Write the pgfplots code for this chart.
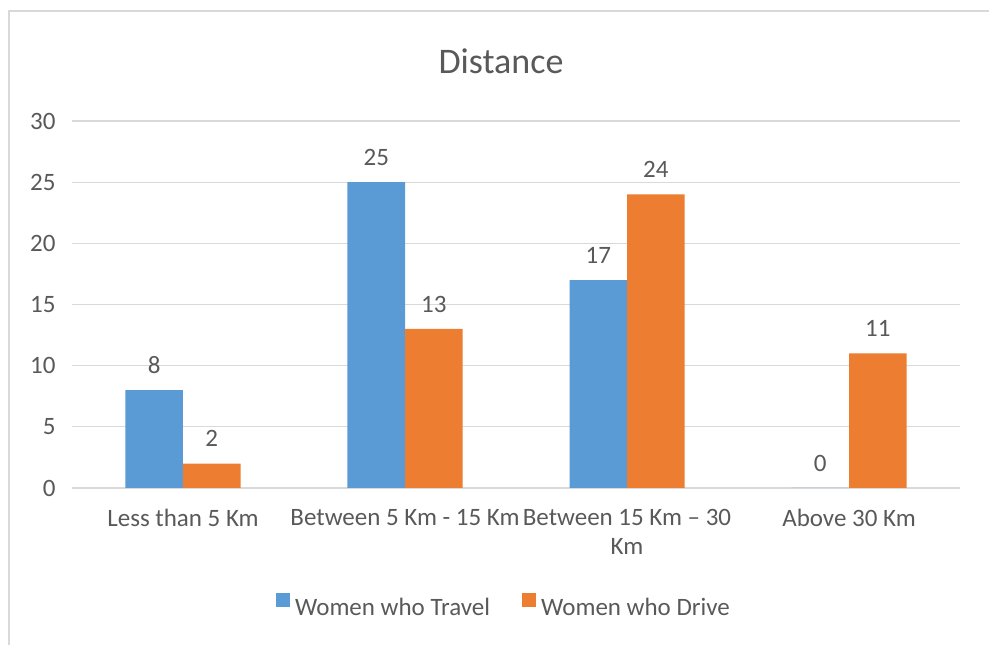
\documentclass[border=0pt]{standalone}
\usepackage{fontspec}
\setmainfont{Carlito}
\usepackage{pgfplots}
\pgfplotsset{compat=1.18}
\definecolor{cblue}{HTML}{5B9BD5}
\definecolor{corange}{HTML}{ED7D31}
\definecolor{ctext}{HTML}{595959}
\definecolor{cgrid}{HTML}{D9D9D9}
\begin{document}
\begin{tikzpicture}[x=1pt,y=1pt]
\path[use as bounding box] (0,0) rectangle (989,645);
\draw[cgrid, line width=1.2pt] (9,-5) -- (9,634) -- (995,634);
\node[text=ctext, font=\fontsize{36}{43}\selectfont] at (501,584) {Distance};
\begin{axis}[
  at={(72pt,157pt)}, anchor=south west,
  scale only axis, width=888pt, height=367pt,
  ybar=0pt, bar width=57.5pt,
  xmin=-0.5, xmax=3.5, ymin=0, ymax=30,
  xtick={0,1,2,3},
  xticklabels={Less than 5 Km, Between 5 Km - 15 Km, {Between 15 Km – 30\\Km}, Above 30 Km},
  ytick={0,5,10,15,20,25,30},
  ymajorgrids, grid style={cgrid, line width=1.2pt},
  axis line style={draw=none},
  major tick length=0pt,
  /pgf/number format/assume math mode=true,
  tick label style={font=\fontsize{25}{29}\selectfont, text=ctext},
  xticklabel style={align=center, anchor=north, yshift=-18pt},
  yticklabel style={anchor=east, xshift=-13pt},
  nodes near coords,
  every node near coord/.append style={font=\fontsize{25}{29}\selectfont, text=ctext, yshift=13pt},
  legend columns=2,
  legend style={at={(0.4865,-0.3215)}, anchor=center, draw=none, fill=none,
    font=\fontsize{25}{29}\selectfont, text=ctext,
    /tikz/every odd column/.append style={column sep=3pt},
    /tikz/every even column/.append style={column sep=30pt}},
  legend image code/.code={\fill[#1] (0pt,1pt) rectangle (14pt,15pt);},
]
\addplot[fill=cblue, draw=none] coordinates {(0,8) (1,25) (2,17) (3,0)};
\addlegendentry{Women who Travel}
\addplot[fill=corange, draw=none] coordinates {(0,2) (1,13) (2,24) (3,11)};
\addlegendentry{Women who Drive}
\end{axis}
\end{tikzpicture}
\end{document}
